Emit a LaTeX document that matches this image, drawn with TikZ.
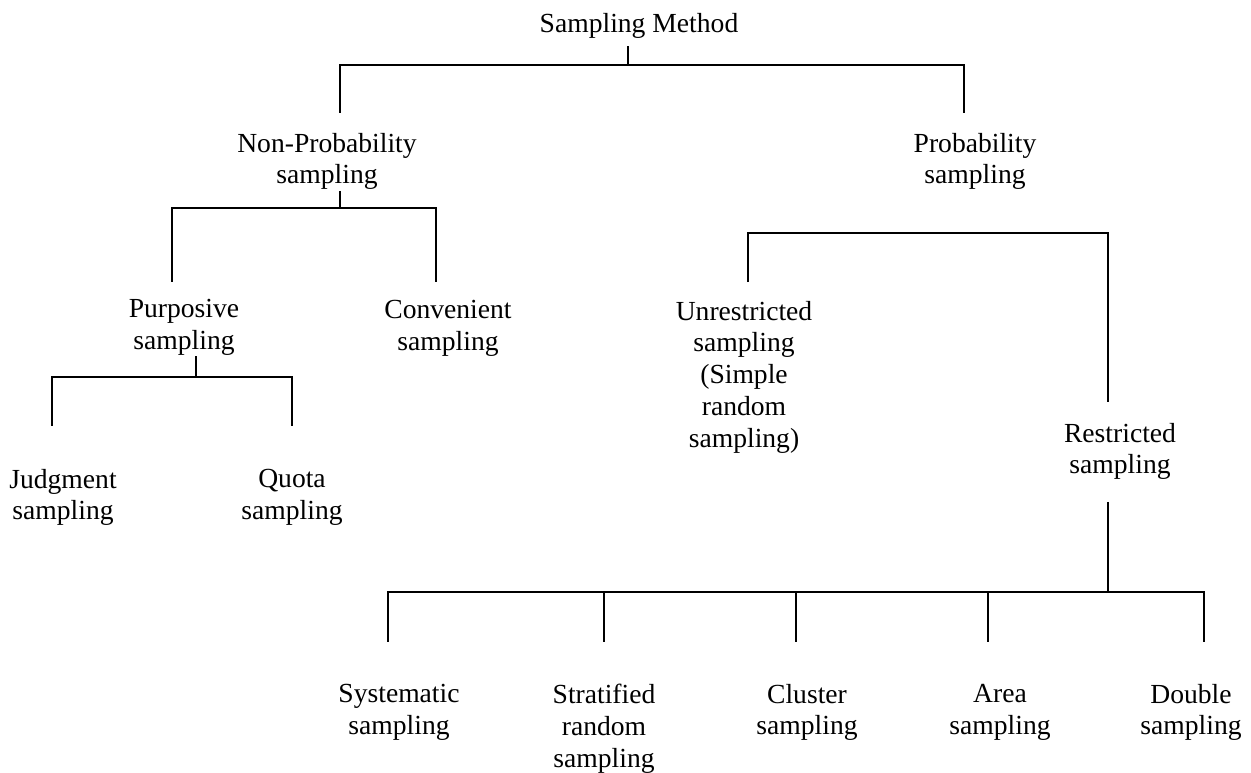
\documentclass[tikz,border=0pt]{standalone}
\usepackage{fontspec}
\setmainfont{Liberation Serif}
\begin{document}
\begin{tikzpicture}[x=0.5pt,y=-0.5pt,line width=1pt]
\tikzstyle{label node}=[align=center,anchor=north,inner sep=0pt,font=\fontsize{13.8}{15.9}\selectfont]
\useasboundingbox (0,0) rectangle (1251,772);
% text nodes
\node[label node] (sm) at (639,12) {Sampling Method};
\node[label node] (np) at (327,132) {Non-Probability\\sampling};
\node[label node] (pr) at (975,132) {Probability\\sampling};
\node[label node] (pu) at (184,298) {Purposive\\sampling};
\node[label node] (co) at (448,299) {Convenient\\sampling};
\node[label node] (ju) at (63,468) {Judgment\\sampling};
\node[label node] (qu) at (292,468) {Quota\\sampling};
\node[label node] (un) at (744,300) {Unrestricted\\sampling\\(Simple\\random\\sampling)};
\node[label node] (re) at (1120,422) {Restricted\\sampling};
\node[label node] (sy) at (399,683) {Systematic\\sampling};
\node[label node] (st) at (604,683) {Stratified\\random\\sampling};
\node[label node] (cl) at (807,683) {Cluster\\sampling};
\node[label node] (ar) at (1000,683) {Area\\sampling};
\node[label node] (do) at (1191,683) {Double\\sampling};
% junctions
\coordinate (j0) at (628,65);
\coordinate (j1) at (340,208);
\coordinate (j2) at (196,377);
\coordinate (j3) at (964,233);
\coordinate (j4) at (1108,592);
% Sampling Method
\draw ([yshift=-3.5pt]sm.south -| j0) -- (j0);
\draw (j0) -| ([yshift=9.5pt]np.north -| j1);
\draw (j0) -| ([yshift=9.5pt]pr.north -| j3);
% Non-Probability
\draw (np.south -| j1) -- (j1);
\draw (j1) -| ([yshift=8pt]pu.north -| 172,0);
\draw (j1) -| ([yshift=8.5pt]co.north -| 436,0);
% Purposive
\draw (pu.south -| j2) -- (j2);
\draw (j2) -| ([yshift=21pt]ju.north -| 52,0);
\draw (j2) -| ([yshift=21pt]qu.north -| 292,0);
% Probability
\draw ([yshift=9pt]un.north -| 748,0) |- (j3) -| ([yshift=10pt]re.north -| 1108,0);
% Restricted
\draw ([yshift=-10.5pt]re.south -| j4) -- (j4);
\foreach \n/\x in {sy/388,st/604,cl/796,ar/988,do/1204}
	\draw (j4) -| ([yshift=20.5pt]\n.north -| \x,0);
\end{tikzpicture}
\end{document}
